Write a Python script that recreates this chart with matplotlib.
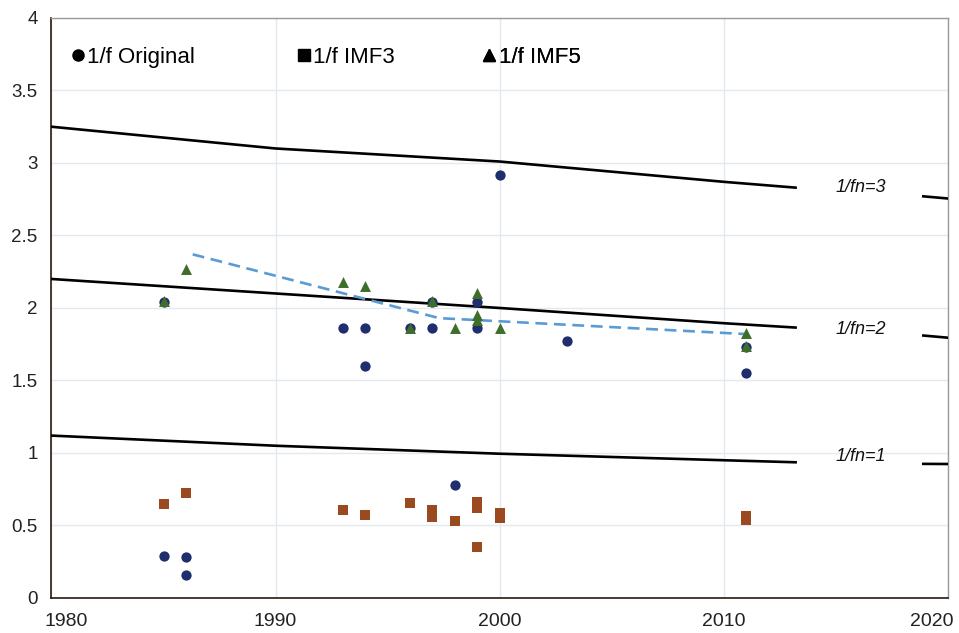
import numpy as np
import matplotlib.pyplot as plt
import matplotlib.transforms as mtransforms
from matplotlib.lines import Line2D

plt.rcParams['font.family'] = ['Liberation Sans', 'DejaVu Sans']

# 1/f Original (circles)
orig_year = [1985, 1985, 1986, 1986, 1993, 1994, 1994, 1996, 1997, 1997, 1998,
             1999, 1999, 2000, 2003, 2011, 2011]
orig_val = [2.04, 0.29, 0.28, 0.16, 1.86, 1.86, 1.60, 1.86, 2.04, 1.86, 0.78,
            2.04, 1.86, 2.92, 1.775, 1.73, 1.555]

# 1/f IMF3 (squares)
imf3_year = [1985, 1986, 1993, 1994, 1996, 1997, 1997, 1998, 1999, 1999, 1999,
             2000, 2000, 2011, 2011]
imf3_val = [0.645, 0.725, 0.605, 0.575, 0.655, 0.605, 0.56, 0.53, 0.66, 0.62,
            0.35, 0.585, 0.55, 0.565, 0.535]

# 1/f IMF5 (triangles)
imf5_year = [1985, 1986, 1993, 1994, 1996, 1997, 1998, 1999, 1999, 1999, 2000,
             2011, 2011]
imf5_val = [2.05, 2.27, 2.18, 2.155, 1.86, 2.05, 1.86, 2.10, 1.95, 1.92, 1.86,
            1.825, 1.74]

# reference curves 1/fn = n (gap left for the label)
line_year = [1980, 1990, 2000, 2010, 2013.2, np.nan, 2018.9, 2020]
fn3 = [3.25, 3.10, 3.01, 2.87, 2.83, np.nan, 2.77, 2.755]
fn2 = [2.20, 2.10, 2.00, 1.895, 1.865, np.nan, 1.81, 1.795]
fn1 = [1.12, 1.05, 0.995, 0.95, 0.936, np.nan, 0.925, 0.924]
line_labels = ['1/fn=3', '1/fn=2', '1/fn=1']
label_x = 2016.1
label_y = [2.834, 1.855, 0.974]

# dashed trend
trend_year = [1986.3, 1997.3, 2011]
trend_val = [2.37, 1.93, 1.82]

legend_names = ['1/f Original', '1/f IMF3', '1/f IMF5']
legend_marks = ['o', 's', '^']

navy = '#1f2f6e'
green = '#3f6e2a'
brown = '#9a4a1e'

fig = plt.figure(figsize=(9.59, 6.33), dpi=100)
ax = fig.add_axes([0.0537, 0.0553, 0.9348, 0.9163])

for vals in (fn3, fn2, fn1):
    ax.plot(line_year, vals, color='black', lw=1.9, zorder=3)
for txt, yv in zip(line_labels, label_y):
    ax.text(label_x, yv, txt, fontsize=13, style='italic', ha='center',
            va='center', color='#111111')

ax.plot(trend_year, trend_val, color='#5b9bd5', lw=1.9, ls=(0, (4.5, 2.5)),
        zorder=3)

ax.scatter(imf3_year, imf3_val, marker='s', s=55, color=brown, zorder=4,
           linewidths=0)
ax.scatter(orig_year, orig_val, marker='o', s=55, color=navy, zorder=5,
           linewidths=0)
ax.scatter(imf5_year, imf5_val, marker='^', s=62, color=green, zorder=6,
           linewidths=0)

ax.set_xlim(1980, 2020)
ax.set_ylim(0, 4)
ax.set_xticks(np.arange(1980, 2021, 10))
ax.set_yticks(np.arange(0, 4.01, 0.5))
ax.set_yticklabels(['0', '0.5', '1', '1.5', '2', '2.5', '3', '3.5', '4'])
ax.tick_params(length=0, colors='#222222')
ax.tick_params(axis='x', pad=11, labelsize=14)
ax.tick_params(axis='y', pad=10, labelsize=13.5)
ax.grid(True, color='#e3e9ef', lw=1)
ax.set_axisbelow(True)
for side in ('top', 'right'):
    ax.spines[side].set_color('#9a9a9a')
    ax.spines[side].set_linewidth(1)
for side in ('left', 'bottom'):
    ax.spines[side].set_color('#2a1a10')
    ax.spines[side].set_linewidth(1.2)

# first and last year labels are pushed inside the figure, as in the original
xlabels = ax.get_xticklabels()
xlabels[0].set_horizontalalignment('left')
xlabels[0].set_transform(xlabels[0].get_transform() +
                         mtransforms.ScaledTranslation(-7 / 100, 0, fig.dpi_scale_trans))
xlabels[-1].set_horizontalalignment('right')
xlabels[-1].set_transform(xlabels[-1].get_transform() +
                          mtransforms.ScaledTranslation(6 / 100, 0, fig.dpi_scale_trans))

# legend entries placed one by one
legend_x = [0.0, 0.2515, 0.4585]
for name, mk, lx in zip(legend_names, legend_marks, legend_x):
    h = Line2D([], [], ls='none', marker=mk, color='black',
               ms=8.5 if mk == '^' else 8)
    lg = ax.legend([h], [name], loc='upper left', bbox_to_anchor=(lx, 0.985),
                   frameon=False, fontsize=16, handlelength=0.6,
                   handletextpad=0.12)
    ax.add_artist(lg)

fig.savefig('out.png', dpi=100)
